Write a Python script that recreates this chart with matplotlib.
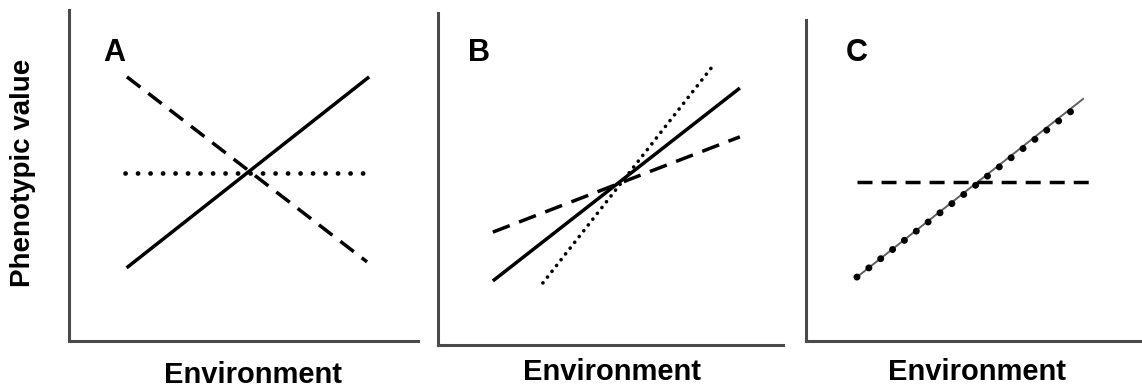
import matplotlib
matplotlib.use("Agg")
import matplotlib.pyplot as plt

plt.rcParams['font.family'] = ['Liberation Sans', 'DejaVu Sans']
plt.rcParams['lines.scale_dashes'] = False

# Panel A: reaction norms crossing
a_env = [1.65, 8.6]
a_solid = [2.21, 7.98]
a_dashed = [7.98, 2.39]
a_dotted_env = [1.60, 8.51]
a_dotted = [5.08, 5.08]

# Panel B: lines with different slopes through one point
b_env = [1.59, 8.75]
b_solid = [1.93, 7.74]
b_dashed = [3.40, 6.27]
b_dotted_env = [3.04, 8.03]
b_dotted = [1.87, 8.49]

# Panel C: sloped line (thin + dots) vs flat dashed
c_env = [1.52, 8.27]
c_solid = [1.99, 7.54]
c_dot_env = [1.52, 7.97]
c_dot = [1.99, 7.2]
c_dashed_env = [1.52, 8.63]
c_dashed = [4.95, 4.95]

panel_labels = ['A', 'B', 'C']
xlabel = 'Environment'
ylabel = 'Phenotypic value'

W, H = 1142, 387
fig = plt.figure(figsize=(W / 100, H / 100), dpi=100)


def make_axes(left, right, top, bottom):
    ax = fig.add_axes([left / W, 1 - bottom / H, (right - left) / W, (bottom - top) / H])
    ax.set_xlim(0, 10)
    ax.set_ylim(0, 10)
    for s in ['top', 'right']:
        ax.spines[s].set_visible(False)
    for s in ['left', 'bottom']:
        ax.spines[s].set_linewidth(2.2)
        ax.spines[s].set_color('#4a4a4a')
    ax.set_xticks([])
    ax.set_yticks([])
    ax.patch.set_alpha(0)
    return ax


lw = 2.5
dash_kw = dict(color='black', lw=lw, dash_capstyle='butt')

ax1 = make_axes(69, 418, 10, 341)
ax1.plot(a_env, a_solid, color='black', lw=lw, solid_capstyle='butt')
ax1.plot([1.66, 8.54], a_dashed, linestyle=(0, (12.2, 7.2)), **dash_kw)
ax1.plot(a_dotted_env, a_dotted, color='black', lw=3.4,
         linestyle=(0, (0.1, 8.9)), dash_capstyle='round')
ax1.text(1.29, 8.70, panel_labels[0], fontsize=22, fontweight='bold', ha='center', va='center')

ax2 = make_axes(438, 783, 13, 345)
ax2.plot(b_env, b_solid, color='black', lw=lw, solid_capstyle='butt')
ax2.plot(b_env, b_dashed, linestyle=(0, (13, 7.2)), **dash_kw)
ax2.plot(b_dotted_env, b_dotted, color='black', lw=2.6,
         linestyle=(0, (0.1, 5.2)), dash_capstyle='round')
ax2.text(1.19, 8.80, panel_labels[1], fontsize=22, fontweight='bold', ha='center', va='center')

ax3 = make_axes(806, 1141, 20, 341)
ax3.plot(c_env, c_solid, color='#606060', lw=1.4)
ax3.plot(c_dot_env, c_dot, color='black', lw=5.0,
         linestyle=(0, (0.1, 10.7)), dash_capstyle='round')
ax3.plot(c_dashed_env, c_dashed, linestyle=(0, (10.8, 6.5)), **dash_kw)
ax3.text(1.52, 8.97, panel_labels[2], fontsize=22, fontweight='bold', ha='center', va='center')

for xc, yb in [(253, 383), (612, 380), (977, 380)]:
    fig.text(xc / W, 1 - yb / H, xlabel, fontsize=21, fontweight='bold', ha='center', va='baseline')
fig.text(23 / W, 1 - 173 / H, ylabel, fontsize=20, fontweight='bold', rotation=90,
         ha='center', va='center')

fig.savefig('out.png', dpi=100, facecolor='white')
